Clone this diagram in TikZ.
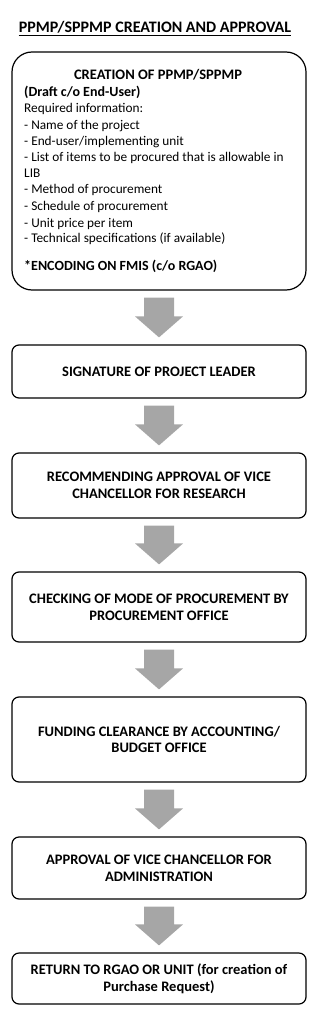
\documentclass[tikz,border=0pt]{standalone}
\usepackage{fontspec}
\setmainfont{Carlito}
\usetikzlibrary{calc}
\definecolor{arrowgray}{HTML}{A6A6A6}
\tikzset{
  stepbox/.style={draw=black, line width=1.2pt, rounded corners=7pt, minimum width=294pt, inner sep=0pt, align=center, font=\fontsize{14.5}{16.8}\selectfont\bfseries},
  bigbox/.style={draw=black, line width=1.2pt, rounded corners=20pt, minimum width=294pt, minimum height=238pt, inner sep=0pt},
  line/.style={anchor=base west, inner sep=0pt, font=\fontsize{13.3}{16.3}\selectfont},
  boldline/.style={line, font=\fontsize{14}{16.3}\selectfont\bfseries},
  blockarrow/.style={fill=arrowgray},
}
\newcommand{\blockarr}[2]{%
  \fill[blockarrow] ($(#1.south)+(-15,7)$) -- ($(#1.south)+(15,7)$) -- ($(#2.north)+(15,-28)$) -- ($(#2.north)+(24,-28)$) -- ($(#2.north)+(0,-7)$) -- ($(#2.north)+(-24,-28)$) -- ($(#2.north)+(-15,-28)$) -- cycle;}
\begin{document}
\begin{tikzpicture}[x=1pt,y=-1pt]
\useasboundingbox (0,0) rectangle (314,1024);
% title
\node[anchor=base, inner sep=0pt, font=\fontsize{16}{18}\selectfont\bfseries] (title) at (155,33) {PPMP/SPPMP CREATION AND APPROVAL};
\draw[line width=1.3pt] ($(title.base west)+(0,2.6)$) -- ($(title.base east)+(0,2.6)$);
% box 1
\node[bigbox] (b1) at (159,171) {};
\node[anchor=base, inner sep=0pt, font=\fontsize{14.5}{16.3}\selectfont\bfseries] (h1) at (158,80) {CREATION OF PPMP/SPPMP};
\node[boldline] (l1) at (24,97) {(Draft c/o End-User)};
\node[line] (l2) at (24,113) {Required information:};
\node[line] (l3) at (24,130) {- Name of the project};
\node[line] (l4) at (24,146) {- End-user/implementing unit};
\node[line] (l5) at (24,162) {- List of items to be procured that is allowable in};
\node[line] (l6) at (24,178) {LIB};
\node[line] (l7) at (24,194) {- Method of procurement};
\node[line] (l8) at (24,211) {- Schedule of procurement};
\node[line] (l9) at (24,227) {- Unit price per item};
\node[line] (l10) at (24,243) {- Technical specifications (if available)};
\node[boldline] (l11) at (24,270) {*ENCODING ON FMIS (c/o RGAO)};
% step boxes
\node[stepbox, minimum height=53pt] (b2) at (159,371.5) {SIGNATURE OF PROJECT LEADER};
\node[stepbox, minimum height=65pt] (b3) at (159,485.5) {RECOMMENDING APPROVAL OF VICE\\CHANCELLOR FOR RESEARCH};
\node[stepbox, minimum height=70pt] (b4) at (159,607) {CHECKING OF MODE OF PROCUREMENT BY\\PROCUREMENT OFFICE};
\node[stepbox, minimum height=85pt] (b5) at (159,739.5) {FUNDING CLEARANCE BY ACCOUNTING/\\BUDGET OFFICE};
\node[stepbox, minimum height=62pt] (b6) at (159,868) {APPROVAL OF VICE CHANCELLOR FOR\\ADMINISTRATION};
\node[stepbox, minimum height=51pt] (b7) at (159,978.5) {RETURN TO RGAO OR UNIT (for creation of\\Purchase Request)};
% arrows
\blockarr{b1}{b2}
\blockarr{b2}{b3}
\blockarr{b3}{b4}
\blockarr{b4}{b5}
\blockarr{b5}{b6}
\blockarr{b6}{b7}
\end{tikzpicture}
\end{document}
